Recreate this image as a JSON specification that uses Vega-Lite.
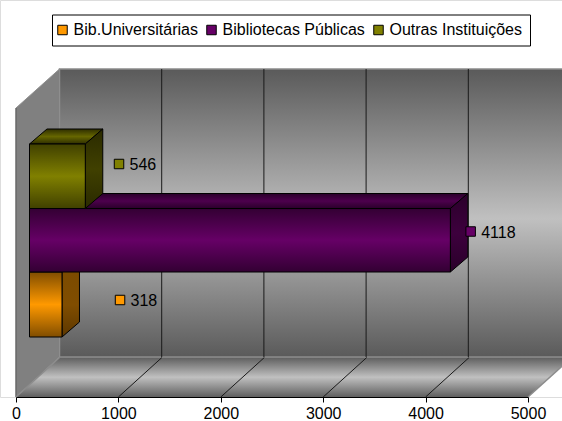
{
"$schema":"https://vega.github.io/schema/vega-lite/v6.json",
"width":562,"height":397,"autosize":"none","padding":{"left":0,"top":0,"right":0,"bottom":24},
"background":"white",
"datasets":{
"bars":[
{"series":"Bib.Universitárias","value":318,"labelAt":1016,"labelY":97},
{"series":"Bibliotecas Públicas","value":4118,"labelAt":4440,"labelY":165.5},
{"series":"Outras Instituições","value":546,"labelAt":1006,"labelY":233}],
"sides":[
{"series":"Bib.Universitárias","x":318,"top":125,"bottom":60},
{"series":"Bib.Universitárias","x":489,"top":140,"bottom":75},
{"series":"Bibliotecas Públicas","x":4118,"top":188.5,"bottom":125},
{"series":"Bibliotecas Públicas","x":4289,"top":203.5,"bottom":140},
{"series":"Outras Instituições","x":546,"top":253,"bottom":188.5},
{"series":"Outras Instituições","x":717,"top":268,"bottom":203.5}],
"tops":[
{"series":"Bibliotecas Públicas","y":188.5,"from":0,"to":4118},
{"series":"Bibliotecas Públicas","y":203.5,"from":171,"to":4289},
{"series":"Outras Instituições","y":253,"from":0,"to":546},
{"series":"Outras Instituições","y":268,"from":171,"to":717}],
"leftwall":[{"d":0,"top":289,"bottom":0},{"d":425,"top":328,"bottom":40}],
"floor":[{"y":0,"from":0,"to":5000},{"y":39.5,"from":425,"to":5425}],
"backwall":[{"from":0,"to":5000,"top":328,"bottom":40}],
"ticks":[{"v":1000},{"v":2000},{"v":3000},{"v":4000}],
"diag":[
{"k":0,"x":0,"y":0},{"k":0,"x":425,"y":39.5},
{"k":1000,"x":1000,"y":0},{"k":1000,"x":1425,"y":39.5},
{"k":2000,"x":2000,"y":0},{"k":2000,"x":2425,"y":39.5},
{"k":3000,"x":3000,"y":0},{"k":3000,"x":3425,"y":39.5},
{"k":4000,"x":4000,"y":0},{"k":4000,"x":4425,"y":39.5},
{"k":5000,"x":5000,"y":0},{"k":5000,"x":5425,"y":39.5}]
},
"resolve":{"scale":{"x":"independent","y":"independent"}},
"layer":[
{"data":{"name":"backwall"},
 "mark":{"type":"rect","stroke":"#8c8c8c","strokeWidth":1.5,"fill":{"gradient":"linear","x1":0,"y1":0,"x2":0,"y2":1,"stops":[{"offset":0,"color":"#5a5a5a"},{"offset":0.52,"color":"#c0c0c0"},{"offset":1,"color":"#5a5a5a"}]}},
 "encoding":{
  "x":{"field":"from","type":"quantitative","axis":null,"scale":{"domain":[0,5000],"range":[59.5,570.5],"nice":false,"zero":false}},
  "x2":{"field":"to"},
  "y":{"field":"top","type":"quantitative","axis":null,"scale":{"domain":[0,397],"range":[397,0],"nice":false,"zero":false}},
  "y2":{"field":"bottom"}}},
{"data":{"name":"leftwall"},
 "mark":{"type":"area","color":"#808080","stroke":"#8f8f8f","strokeWidth":1},
 "encoding":{
  "x":{"field":"d","type":"quantitative","axis":null,"scale":{"domain":[0,5000],"range":[16,528],"nice":false,"zero":false}},
  "y":{"field":"top","type":"quantitative","axis":null,"scale":{"domain":[0,397],"range":[397,0],"nice":false,"zero":false}},
  "y2":{"field":"bottom"}}},
{"data":{"values":[{"d":0,"top":289,"bottom":0}]},
 "mark":{"type":"rule","color":"#555555","strokeWidth":1},
 "encoding":{
  "x":{"field":"d","type":"quantitative","axis":null,"scale":{"domain":[0,5000],"range":[16,528],"nice":false,"zero":false}},
  "y":{"field":"top","type":"quantitative","axis":null,"scale":{"domain":[0,397],"range":[397,0],"nice":false,"zero":false}},
  "y2":{"field":"bottom"}}},
{"data":{"name":"floor"},
 "mark":{"type":"area","orient":"horizontal","fill":{"gradient":"linear","x1":0,"y1":0,"x2":0,"y2":1,"stops":[{"offset":0,"color":"#5f5f5f"},{"offset":0.5,"color":"#c0c0c0"},{"offset":1,"color":"#5f5f5f"}]}},
 "encoding":{
  "y":{"field":"y","type":"quantitative","axis":null,"scale":{"domain":[0,397],"range":[397,0],"nice":false,"zero":false}},
  "x":{"field":"from","type":"quantitative","axis":null,"scale":{"domain":[0,5000],"range":[16,528],"nice":false,"zero":false}},
  "x2":{"field":"to"}}},
{"data":{"name":"ticks"},
 "mark":{"type":"rule","color":"#1a1a1a","strokeWidth":1},
 "encoding":{
  "x":{"field":"v","type":"quantitative","axis":null,"scale":{"domain":[0,5000],"range":[59.5,570.5],"nice":false,"zero":false}},
  "y":{"datum":40,"type":"quantitative","axis":null,"scale":{"domain":[0,397],"range":[397,0],"nice":false,"zero":false}},
  "y2":{"datum":328}}},
{"data":{"name":"diag"},
 "transform":[{"filter":"datum.k>0 && datum.k<5000"}],
 "mark":{"type":"line","color":"#1a1a1a","strokeWidth":1},
 "encoding":{
  "detail":{"field":"k"},
  "x":{"field":"x","type":"quantitative","axis":null,"scale":{"domain":[0,5000],"range":[16,528],"nice":false,"zero":false}},
  "y":{"field":"y","type":"quantitative","axis":null,"scale":{"domain":[0,397],"range":[397,0],"nice":false,"zero":false}}}},
{"data":{"name":"diag"},
 "transform":[{"filter":"datum.k==0 || datum.k==5000"}],
 "mark":{"type":"line","color":"#8c8c8c","strokeWidth":1.5},
 "encoding":{
  "detail":{"field":"k"},
  "x":{"field":"x","type":"quantitative","axis":null,"scale":{"domain":[0,5000],"range":[16,528],"nice":false,"zero":false}},
  "y":{"field":"y","type":"quantitative","axis":null,"scale":{"domain":[0,397],"range":[397,0],"nice":false,"zero":false}}}},
{"data":{"name":"sides"},
 "transform":[{"filter":"datum.series=='Bib.Universitárias'"}],
 "mark":{"type":"area","stroke":"black","strokeWidth":1,"fill":{"gradient":"linear","x1":0,"y1":0,"x2":0,"y2":1,"stops":[{"offset":0,"color":"#7a4a00"},{"offset":0.6,"color":"#804d00"},{"offset":1,"color":"#5c3700"}]}},
 "encoding":{
  "x":{"field":"x","type":"quantitative","axis":null,"scale":{"domain":[0,5000],"range":[29.5,540.5],"nice":false,"zero":false}},
  "y":{"field":"top","type":"quantitative","axis":null,"scale":{"domain":[0,397],"range":[397,0],"nice":false,"zero":false}},
  "y2":{"field":"bottom"}}},
{"data":{"name":"bars"},
 "transform":[{"filter":"datum.series=='Bib.Universitárias'"}],
 "mark":{"type":"rect","stroke":"black","strokeWidth":1,"fill":{"gradient":"linear","x1":0,"y1":0,"x2":0,"y2":1,"stops":[{"offset":0,"color":"#804d00"},{"offset":0.5,"color":"#ff9900"},{"offset":1,"color":"#804d00"}]}},
 "encoding":{
  "x":{"field":"value","type":"quantitative","axis":null,"scale":{"domain":[0,5000],"range":[29.5,540.5],"nice":false,"zero":false}},
  "x2":{"datum":0},
  "y":{"datum":125,"type":"quantitative","axis":null,"scale":{"domain":[0,397],"range":[397,0],"nice":false,"zero":false}},
  "y2":{"datum":60}}},
{"data":{"name":"tops"},
 "transform":[{"filter":"datum.series=='Bibliotecas Públicas'"}],
 "mark":{"type":"area","orient":"horizontal","stroke":"black","strokeWidth":1,"fill":{"gradient":"linear","x1":0,"y1":0,"x2":0,"y2":1,"stops":[{"offset":0,"color":"#2a002a"},{"offset":0.5,"color":"#4d004d"},{"offset":1,"color":"#2a002a"}]}},
 "encoding":{
  "y":{"field":"y","type":"quantitative","axis":null,"scale":{"domain":[0,397],"range":[397,0],"nice":false,"zero":false}},
  "x":{"field":"from","type":"quantitative","axis":null,"scale":{"domain":[0,5000],"range":[29.5,540.5],"nice":false,"zero":false}},
  "x2":{"field":"to"}}},
{"data":{"name":"sides"},
 "transform":[{"filter":"datum.series=='Bibliotecas Públicas'"}],
 "mark":{"type":"area","stroke":"black","strokeWidth":1,"fill":{"gradient":"linear","x1":0,"y1":0,"x2":0,"y2":1,"stops":[{"offset":0,"color":"#2a002a"},{"offset":0.5,"color":"#3d003d"},{"offset":1,"color":"#2a002a"}]}},
 "encoding":{
  "x":{"field":"x","type":"quantitative","axis":null,"scale":{"domain":[0,5000],"range":[29.5,540.5],"nice":false,"zero":false}},
  "y":{"field":"top","type":"quantitative","axis":null,"scale":{"domain":[0,397],"range":[397,0],"nice":false,"zero":false}},
  "y2":{"field":"bottom"}}},
{"data":{"name":"bars"},
 "transform":[{"filter":"datum.series=='Bibliotecas Públicas'"}],
 "mark":{"type":"rect","stroke":"black","strokeWidth":1,"fill":{"gradient":"linear","x1":0,"y1":0,"x2":0,"y2":1,"stops":[{"offset":0,"color":"#330033"},{"offset":0.5,"color":"#660066"},{"offset":1,"color":"#330033"}]}},
 "encoding":{
  "x":{"field":"value","type":"quantitative","axis":null,"scale":{"domain":[0,5000],"range":[29.5,540.5],"nice":false,"zero":false}},
  "x2":{"datum":0},
  "y":{"datum":188.5,"type":"quantitative","axis":null,"scale":{"domain":[0,397],"range":[397,0],"nice":false,"zero":false}},
  "y2":{"datum":125}}},
{"data":{"name":"tops"},
 "transform":[{"filter":"datum.series=='Outras Instituições'"}],
 "mark":{"type":"area","orient":"horizontal","stroke":"black","strokeWidth":1,"fill":{"gradient":"linear","x1":0,"y1":0,"x2":0,"y2":1,"stops":[{"offset":0,"color":"#2e2e00"},{"offset":0.5,"color":"#666600"},{"offset":1,"color":"#2e2e00"}]}},
 "encoding":{
  "y":{"field":"y","type":"quantitative","axis":null,"scale":{"domain":[0,397],"range":[397,0],"nice":false,"zero":false}},
  "x":{"field":"from","type":"quantitative","axis":null,"scale":{"domain":[0,5000],"range":[29.5,540.5],"nice":false,"zero":false}},
  "x2":{"field":"to"}}},
{"data":{"name":"sides"},
 "transform":[{"filter":"datum.series=='Outras Instituições'"}],
 "mark":{"type":"area","stroke":"black","strokeWidth":1,"fill":{"gradient":"linear","x1":0,"y1":0,"x2":0,"y2":1,"stops":[{"offset":0,"color":"#2a2a00"},{"offset":0.5,"color":"#404000"},{"offset":1,"color":"#2a2a00"}]}},
 "encoding":{
  "x":{"field":"x","type":"quantitative","axis":null,"scale":{"domain":[0,5000],"range":[29.5,540.5],"nice":false,"zero":false}},
  "y":{"field":"top","type":"quantitative","axis":null,"scale":{"domain":[0,397],"range":[397,0],"nice":false,"zero":false}},
  "y2":{"field":"bottom"}}},
{"data":{"name":"bars"},
 "transform":[{"filter":"datum.series=='Outras Instituições'"}],
 "mark":{"type":"rect","stroke":"black","strokeWidth":1,"fill":{"gradient":"linear","x1":0,"y1":0,"x2":0,"y2":1,"stops":[{"offset":0,"color":"#404000"},{"offset":0.5,"color":"#808000"},{"offset":1,"color":"#404000"}]}},
 "encoding":{
  "x":{"field":"value","type":"quantitative","axis":null,"scale":{"domain":[0,5000],"range":[29.5,540.5],"nice":false,"zero":false}},
  "x2":{"datum":0},
  "y":{"datum":253,"type":"quantitative","axis":null,"scale":{"domain":[0,397],"range":[397,0],"nice":false,"zero":false}},
  "y2":{"datum":188.5}}},
{"data":{"name":"bars"},
 "mark":{"type":"point","shape":"square","filled":true,"size":90,"stroke":"black","strokeWidth":1,"opacity":1},
 "encoding":{
  "x":{"field":"labelAt","type":"quantitative","title":null,
   "scale":{"domain":[0,5000],"range":[16,528],"nice":false,"zero":false},
   "axis":{"values":[0,1000,2000,3000,4000,5000],"grid":false,"domainColor":"black","tickColor":"black","tickSize":5,"labelColor":"black","labelFont":"Liberation Sans","labelFontSize":16,"labelPadding":3,"labelOverlap":false,"labelBound":false,"labelFlush":false,"labelAngle":0,"zindex":1,"title":null,"format":"d"}},
  "y":{"field":"labelY","type":"quantitative","axis":null,"scale":{"domain":[0,397],"range":[397,0],"nice":false,"zero":false}},
  "color":{"field":"series","type":"nominal","title":null,
   "scale":{"domain":["Bib.Universitárias","Bibliotecas Públicas","Outras Instituições"],"range":["#ff9900","#660066","#808000"]},
   "legend":{"orient":"none","legendX":52,"legendY":14.5,"columns":3,"gridAlign":"none","columnPadding":6,"padding":7.5,"fillColor":"white","strokeColor":"black","symbolType":"square","symbolSize":90,"symbolOffset":-5,"symbolStrokeColor":"black","symbolStrokeWidth":1,"symbolOpacity":1,"labelFont":"Liberation Sans","labelFontSize":16,"labelColor":"black","labelLimit":300,"labelOffset":3,"cornerRadius":0}}}},
{"data":{"name":"bars"},
 "mark":{"type":"text","align":"left","baseline":"middle","dx":10.5,"dy":1,"font":"Liberation Sans","fontSize":16,"color":"black"},
 "encoding":{
  "x":{"field":"labelAt","type":"quantitative","axis":null,"scale":{"domain":[0,5000],"range":[16,528],"nice":false,"zero":false}},
  "y":{"field":"labelY","type":"quantitative","axis":null,"scale":{"domain":[0,397],"range":[397,0],"nice":false,"zero":false}},
  "text":{"field":"value","type":"quantitative","format":"d"}}}
]
}
